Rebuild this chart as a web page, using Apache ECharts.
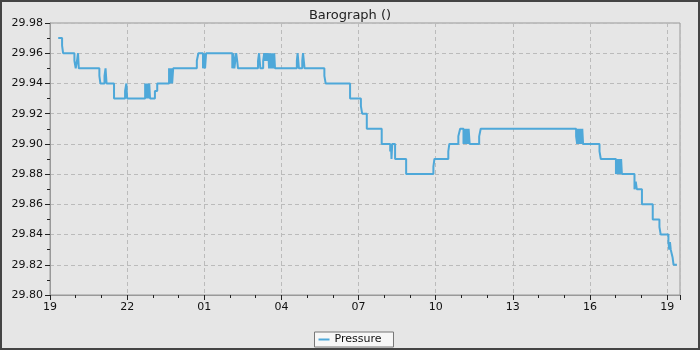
<!DOCTYPE html>
<html><head><meta charset="utf-8">
<script src="https://cdn.jsdelivr.net/npm/echarts@6/dist/echarts.min.js"></script>
<style>
html,body{margin:0;padding:0;background:#e6e6e6;}
#c{width:696px;height:346px;border:2px solid #444;background:#e6e6e6;}
</style></head><body>
<div id="c"></div>
<script>
// hours elapsed since 19:00 on the first day
const hours = [0.32,0.47,0.51,0.95,1.00,1.05,1.09,1.12,1.92,1.96,2.12,2.16,2.20,2.49,2.92,2.97,3.00,
3.70,3.74,3.78,3.82,3.86,3.89,4.08,4.17,4.63,4.67,4.71,4.75,4.79,5.71,5.77,5.95,5.99,6.03,6.07,
7.09,7.13,7.17,7.24,7.28,7.31,8.09,8.13,8.18,8.29,8.33,8.37,8.41,8.45,8.49,8.52,8.56,8.60,8.64,8.68,8.72,8.75,
9.60,9.63,9.68,9.81,9.84,9.90,10.67,10.72,11.67,12.09,12.14,12.32,12.90,13.23,13.26,13.28,13.31,13.42,13.85,
14.91,14.95,15.49,15.53,15.88,15.95,16.08,16.12,16.16,16.20,16.24,16.28,16.32,16.69,16.75,
20.46,20.50,20.54,20.58,20.62,20.66,20.70,20.73,21.37,21.42,22.01,22.05,22.09,22.13,22.17,22.21,22.24,
22.73,22.78,22.82,23.02,23.44,23.70,23.75,24.05,24.08,24.11,24.14,24.21,24.25,24.38];
const pressure = [29.97,29.965,29.96,29.955,29.95,29.955,29.96,29.95,29.945,29.94,29.945,29.95,29.94,29.93,29.935,29.94,29.93,
29.94,29.93,29.94,29.93,29.94,29.93,29.935,29.94,29.95,29.94,29.95,29.94,29.95,29.955,29.96,29.95,29.96,29.95,29.96,
29.95,29.96,29.95,29.96,29.955,29.95,29.955,29.96,29.95,29.955,29.96,29.955,29.96,29.955,29.96,29.95,29.96,29.95,29.96,29.95,29.96,29.95,
29.955,29.96,29.95,29.955,29.96,29.95,29.945,29.94,29.93,29.925,29.92,29.91,29.90,29.895,29.90,29.89,29.90,29.89,29.88,
29.885,29.89,29.895,29.90,29.905,29.91,29.90,29.91,29.90,29.91,29.90,29.91,29.90,29.905,29.91,
29.905,29.90,29.91,29.90,29.91,29.90,29.91,29.90,29.895,29.89,29.88,29.89,29.88,29.89,29.88,29.89,29.88,
29.87,29.875,29.87,29.86,29.85,29.845,29.84,29.835,29.83,29.835,29.83,29.825,29.82,29.82];
const startHour = 19;
const yTickMin = 29.80, yTickMax = 29.98, yTickStep = 0.02;
const xMax = 24.5, xStep = 3;

const chart = echarts.init(document.getElementById('c'), null, {renderer:'canvas'});
const font = 'DejaVu Sans';
chart.setOption({
  backgroundColor:'#e6e6e6',
  animation:false,
  title:{text:'Barograph ()',left:'center',top:2,textStyle:{fontFamily:font,fontSize:13,fontWeight:'normal',color:'#222'}},
  legend:{bottom:1,left:'center',data:['Pressure'],icon:'rect',itemWidth:11,itemHeight:2,itemGap:6,
    backgroundColor:'#f7f7f7',borderColor:'#777',borderWidth:1,borderRadius:0,padding:[2,12,2,4],
    textStyle:{fontFamily:font,fontSize:11,color:'#111'}},
  grid:{left:48,top:21,right:18,bottom:53,show:true,borderColor:'#999',borderWidth:1,backgroundColor:'transparent'},
  xAxis:{type:'value',min:0,max:xMax,interval:xStep,
    axisLine:{lineStyle:{color:'#999'}},
    axisTick:{length:5,lineStyle:{color:'#222'}},
    minorTick:{show:true,splitNumber:3,length:3,lineStyle:{color:'#222'}},
    axisLabel:{fontFamily:font,fontSize:11,color:'#111',showMaxLabel:false,margin:7,
      formatter:v=>{const h=((startHour+Math.round(v))%24);return String(h).padStart(2,'0');}},
    splitLine:{show:true,lineStyle:{color:'#bbb',type:[4,3]}}},
  yAxis:{type:'value',min:yTickMin,max:yTickMax,interval:yTickStep,
    axisLine:{show:true,lineStyle:{color:'#999'}},
    axisTick:{show:true,length:5,lineStyle:{color:'#222'}},
    minorTick:{show:true,splitNumber:2,length:3,lineStyle:{color:'#222'}},
    axisLabel:{fontFamily:font,fontSize:11,color:'#111',margin:7,formatter:v=>v.toFixed(2)},
    splitLine:{show:true,lineStyle:{color:'#bbb',type:[4,3]}}},
  series:[{name:'Pressure',type:'line',step:'end',showSymbol:false,
    data:hours.map((h,i)=>[h,pressure[i]]),
    lineStyle:{color:'#4ea8d9',width:2},itemStyle:{color:'#4ea8d9'}}]
});
</script></body></html>
